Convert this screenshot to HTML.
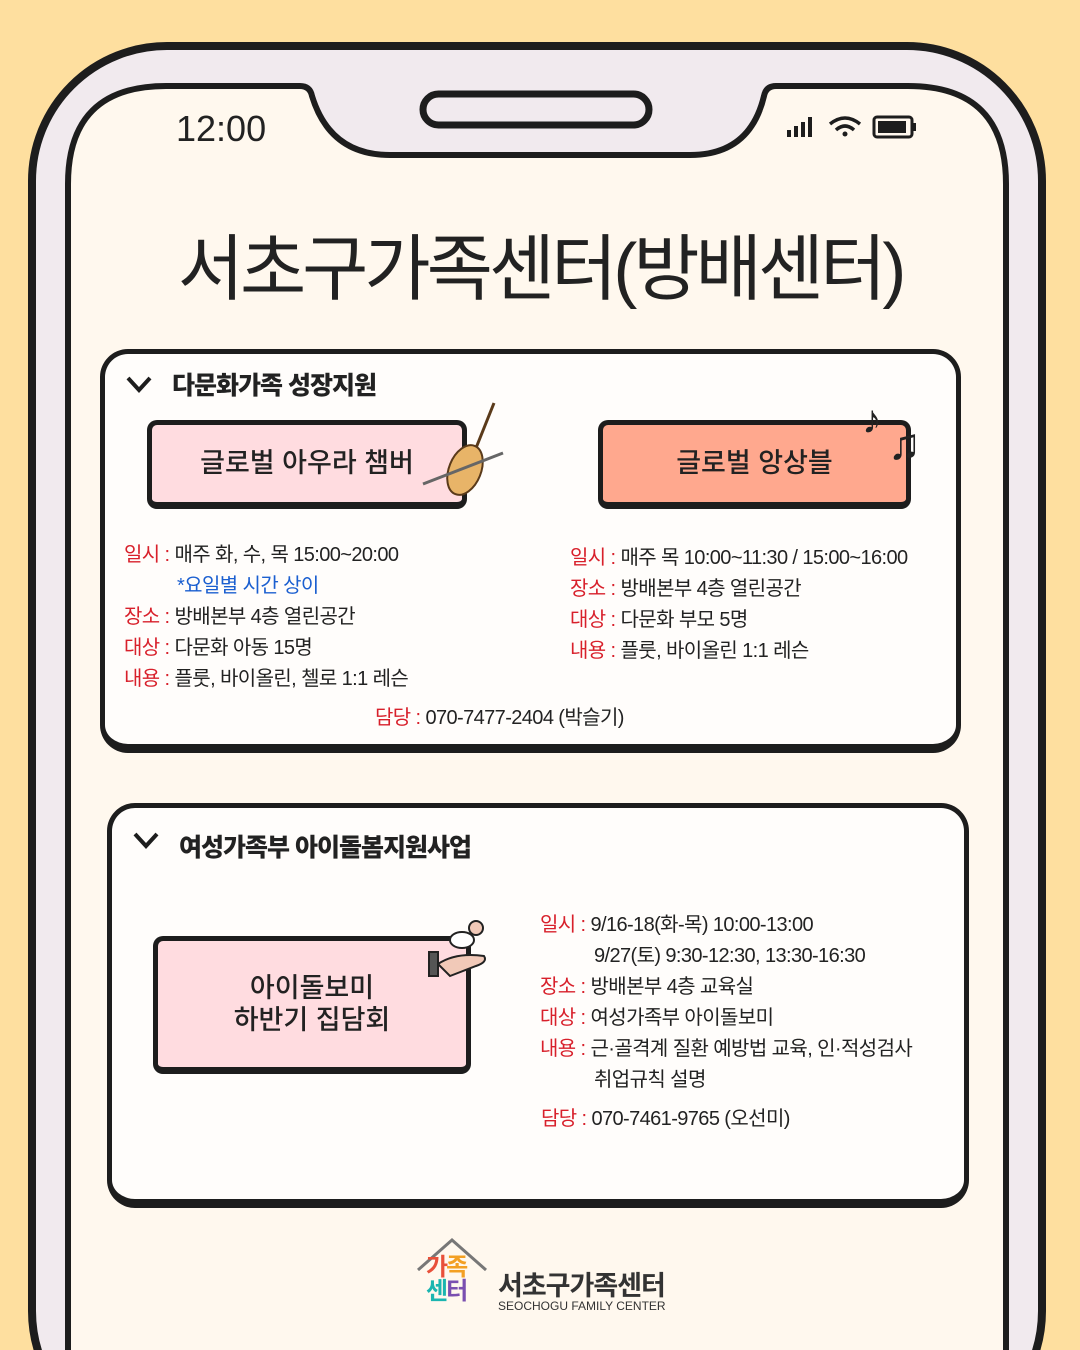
<!DOCTYPE html>
<html><head><meta charset="utf-8"><style>
*{margin:0;padding:0;box-sizing:border-box}
html,body{width:1080px;height:1350px;overflow:hidden}
body{background:#fedf9f;position:relative;font-family:"Liberation Sans","Noto Sans CJK KR",sans-serif;color:#222}
.a{position:absolute;white-space:nowrap}
.card{position:absolute;background:#fffdfb;border:5px solid #1d1d1d;border-bottom-width:9px;border-radius:28px}
.btn{position:absolute;border:5px solid #1d1d1d;border-bottom-width:7px;border-radius:10px;display:flex;align-items:center;justify-content:center;font-size:27px;text-align:center;line-height:1.2;font-weight:500}
.h{font-size:25px;font-weight:900;letter-spacing:-1px}
.t{font-size:20px;letter-spacing:-0.6px}
.r{color:#d8202b}
.b{color:#1b5fd0}
</style></head><body>
<svg class="a" style="left:0;top:0" width="1080" height="1350">
<rect x="32" y="46" width="1010" height="1400" rx="135" fill="#f1eaee" stroke="#1d1d1d" stroke-width="8"/>
<path d="M166 86 H300 Q310 86 312 96 Q330 155 390 155 H690 Q750 155 764 96 Q766 86 776 86 H908 Q1006 86 1006 184 V1400 H68 V184 Q68 86 166 86 Z" fill="#fff8ee" stroke="#1d1d1d" stroke-width="6"/>
<rect x="423" y="94" width="226" height="31" rx="15.5" fill="none" stroke="#1d1d1d" stroke-width="7"/>
<g fill="#1d1d1d"><rect x="787" y="130" width="4" height="7"/><rect x="794" y="126" width="4" height="11"/><rect x="801" y="122" width="4" height="15"/><rect x="808" y="117" width="4" height="20"/></g>
<path d="M830 124 Q845 112 860 124" fill="none" stroke="#1d1d1d" stroke-width="3.5"/><path d="M836 130 Q845 122 854 130" fill="none" stroke="#1d1d1d" stroke-width="3.5"/><circle cx="845" cy="134" r="2.5" fill="#1d1d1d"/>
<rect x="874" y="117" width="38" height="20" rx="3" fill="none" stroke="#1d1d1d" stroke-width="3"/><rect x="878" y="121" width="28" height="12" fill="#1d1d1d"/><rect x="913" y="123" width="3" height="8" fill="#1d1d1d"/>
</svg>
<div class="a" style="left:176px;top:108px;font-size:36px">12:00</div>
<div class="a" style="left:0;width:1080px;top:210px;text-align:center;font-size:72px;letter-spacing:-4px;font-weight:400">서초구가족센터(방배센터)</div>

<div class="card" style="left:100px;top:349px;width:861px;height:404px"></div>
<div class="a h" style="left:172px;top:366px">다문화가족 성장지원</div>
<div class="btn" style="left:147px;top:420px;width:320px;height:89px;background:#ffdce0">글로벌 아우라 챔버</div>
<div class="btn" style="left:598px;top:420px;width:313px;height:89px;background:#ffa88e">글로벌 앙상블</div>
<svg class="a" style="left:418px;top:398px" width="90" height="104"><line x1="40" y1="95" x2="76" y2="5" stroke="#5a3a1a" stroke-width="3"/><ellipse cx="47" cy="72" rx="16" ry="26" transform="rotate(22 47 72)" fill="#e8b468" stroke="#5a3a1a" stroke-width="2"/><line x1="5" y1="86" x2="85" y2="55" stroke="#666" stroke-width="3"/></svg>
<div class="a" style="left:862px;top:398px;font-size:40px">♪</div>
<div class="a" style="left:888px;top:420px;font-size:44px">♫</div>
<div class="a t" style="left:124px;top:540px;line-height:31px"><span class="r">일시 :</span> 매주 화, 수, 목 15:00~20:00<br><span style="padding-left:53px" class="b">*요일별 시간 상이</span><br><span class="r">장소 :</span> 방배본부 4층 열린공간<br><span class="r">대상 :</span> 다문화 아동 15명<br><span class="r">내용 :</span> 플룻, 바이올린, 첼로 1:1 레슨</div>
<div class="a t" style="left:570px;top:543px;line-height:31px"><span class="r">일시 :</span> 매주 목 10:00~11:30 / 15:00~16:00<br><span class="r">장소 :</span> 방배본부 4층 열린공간<br><span class="r">대상 :</span> 다문화 부모 5명<br><span class="r">내용 :</span> 플룻, 바이올린 1:1 레슨</div>
<div class="a t" style="left:375px;top:701px"><span class="r">담당 :</span> 070-7477-2404 (박슬기)</div>

<div class="card" style="left:107px;top:803px;width:862px;height:405px"></div>
<div class="a h" style="left:179px;top:828px">여성가족부 아이돌봄지원사업</div>
<div class="btn" style="left:153px;top:936px;width:318px;height:138px;background:#ffdce0">아이돌보미<br>하반기 집담회</div>
<svg class="a" style="left:426px;top:918px" width="66" height="62"><circle cx="50" cy="10" r="7" fill="#f1c9b8" stroke="#222" stroke-width="2"/><ellipse cx="36" cy="22" rx="12" ry="8" fill="#fff" stroke="#222" stroke-width="2"/><path d="M12 46 Q30 34 58 38 Q62 44 50 48 L24 58 Z" fill="#f1c9b8" stroke="#222" stroke-width="2"/><rect x="3" y="34" width="9" height="24" fill="#555" stroke="#222" stroke-width="2"/></svg>
<div class="a t" style="left:540px;top:910px;line-height:31px"><span class="r">일시 :</span> 9/16-18(화-목) 10:00-13:00<br><span style="padding-left:54px">9/27(토) 9:30-12:30, 13:30-16:30</span><br><span class="r">장소 :</span> 방배본부 4층 교육실<br><span class="r">대상 :</span> 여성가족부 아이돌보미<br><span class="r">내용 :</span> 근·골격계 질환 예방법 교육, 인·적성검사<br><span style="padding-left:54px">취업규칙 설명</span></div>
<div class="a t" style="left:541px;top:1102px"><span class="r">담당 :</span> 070-7461-9765 (오선미)</div>

<svg class="a" style="left:0;top:0" width="1080" height="1350">
<path d="M128 378 l11 12 l11 -12" fill="none" stroke="#1d1d1d" stroke-width="4"/>
<path d="M135 834 l11 12 l11 -12" fill="none" stroke="#1d1d1d" stroke-width="4"/>
<path d="M418 1270 L452 1240 L486 1270" fill="none" stroke="#777" stroke-width="3"/>
</svg>
<div class="a" style="left:426px;top:1256px;font-size:24px;line-height:24px;font-weight:700;letter-spacing:-2px"><span style="color:#e8503a">가</span><span style="color:#f3a023">족</span><br><span style="color:#1bb5b0">센</span><span style="color:#7a4fb0">터</span></div>
<div class="a" style="left:498px;top:1264px;font-size:27px;font-weight:700;letter-spacing:-1px;color:#333">서초구가족센터</div>
<div class="a" style="left:498px;top:1299px;font-size:12px;color:#333">SEOCHOGU FAMILY CENTER</div>
</body></html>
